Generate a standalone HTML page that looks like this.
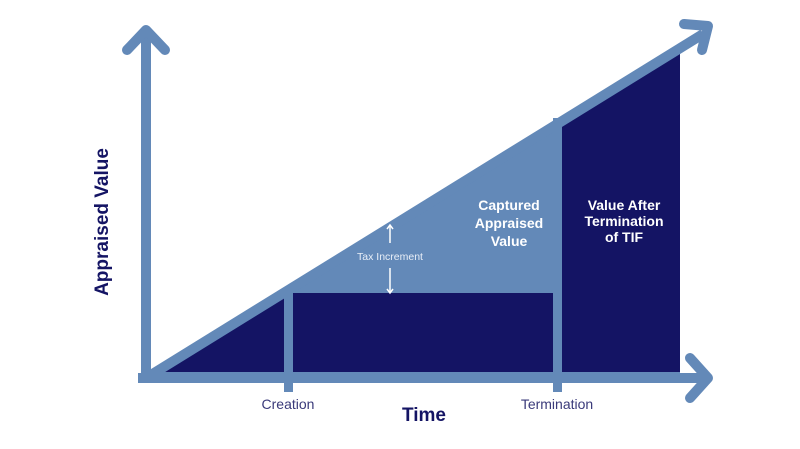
<!DOCTYPE html>
<html><head><style>body{margin:0;background:#fff}svg{display:block}</style></head><body>
<svg width="800" height="449" viewBox="0 0 800 449" xmlns="http://www.w3.org/2000/svg" font-family="Liberation Sans, sans-serif">
<polygon points="146,378 680,48 680,378" fill="#6389b8"/>
<polygon points="156,372 284,372 284,297" fill="#141464"/>
<rect x="293" y="293" width="260" height="79" fill="#141464"/>
<polygon points="562,124 680,51 680,372 562,372" fill="#141464"/>
<line x1="146" y1="378" x2="703" y2="34" stroke="#6389b8" stroke-width="10"/>
<rect x="284" y="290" width="9" height="102" fill="#6389b8"/>
<rect x="553" y="118" width="9" height="274" fill="#6389b8"/>
<line x1="146" y1="383" x2="146" y2="32" stroke="#6389b8" stroke-width="10"/>
<line x1="138" y1="378" x2="707" y2="378" stroke="#6389b8" stroke-width="10"/>
<polyline points="127,50 146,30 165,50" fill="none" stroke="#6389b8" stroke-width="10" stroke-linecap="round" stroke-linejoin="round"/>
<polyline points="690,358 708,378 690,398" fill="none" stroke="#6389b8" stroke-width="10" stroke-linecap="round" stroke-linejoin="round"/>
<polyline points="684,24 708,26 702,50" fill="none" stroke="#6389b8" stroke-width="10" stroke-linecap="round" stroke-linejoin="round"/>
<g fill="#fff" font-weight="bold" font-size="14" text-anchor="middle">
<text x="509" y="210">Captured</text><text x="509" y="228">Appraised</text><text x="509" y="246">Value</text>
<text x="624" y="210">Value After</text><text x="624" y="226">Termination</text><text x="624" y="242">of TIF</text>
</g>
<text x="390" y="260" fill="#e8eef7" font-size="10.5" text-anchor="middle">Tax Increment</text>
<g stroke="#fff" stroke-width="1.5" fill="none">
<line x1="390" y1="226" x2="390" y2="243"/><polyline points="387,229 390,225 393,229"/>
<line x1="390" y1="268" x2="390" y2="292"/><polyline points="387,289 390,293 393,289"/>
</g>
<g fill="#3a3a7a" font-size="14" text-anchor="middle">
<text x="288" y="409">Creation</text><text x="557" y="409">Termination</text>
</g>
<text x="424" y="421" fill="#141464" font-size="19" font-weight="bold" text-anchor="middle">Time</text>
<text transform="translate(108,222) rotate(-90)" fill="#141464" font-size="19" font-weight="bold" text-anchor="middle">Appraised Value</text>
</svg>
</body></html>
